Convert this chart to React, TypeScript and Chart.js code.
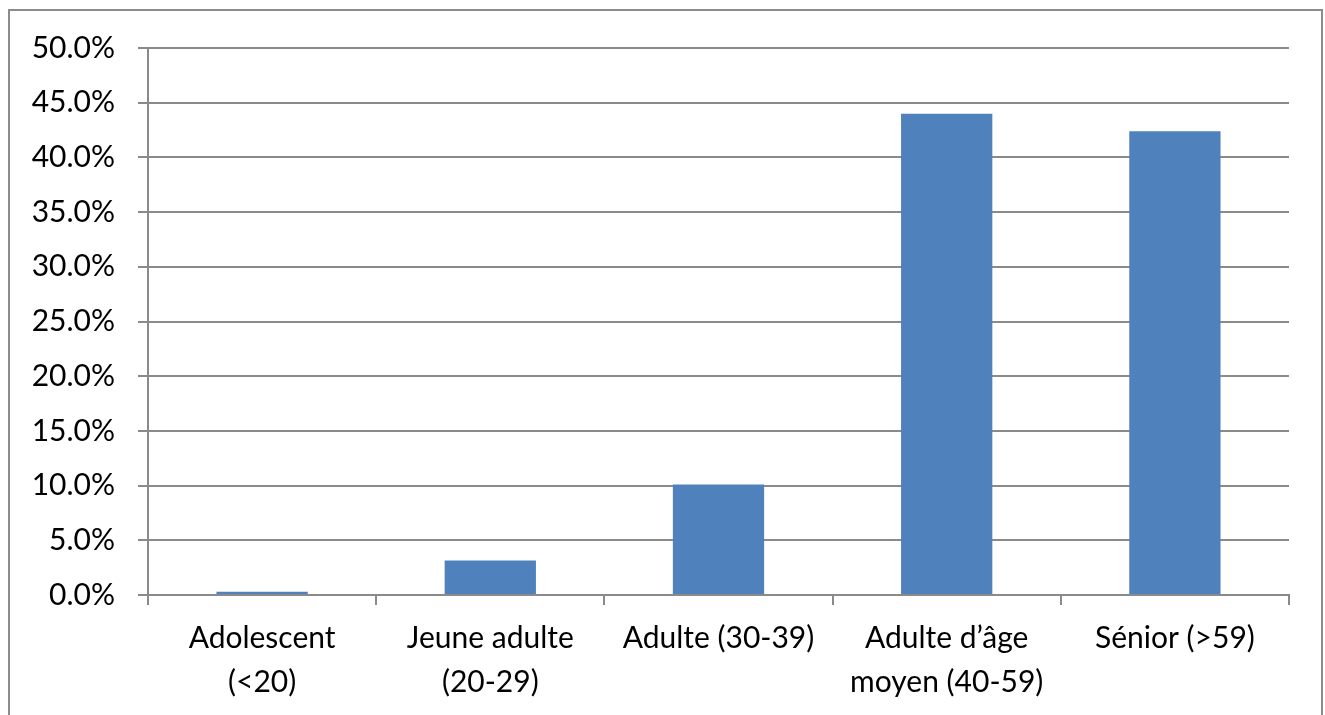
import React, { useEffect, useRef } from "react";
import { Chart, registerables } from "chart.js";

Chart.register(...registerables);

const categories: (string | string[])[] = [
  ["Adolescent", "(<20)"],
  ["Jeune adulte", "(20-29)"],
  "Adulte (30-39)",
  ["Adulte d\u2019âge", "moyen (40-59)"],
  "Sénior (>59)",
];
const values: number[] = [0.3, 3.15, 10.1, 44.0, 42.4];
const yMin = 0;
const yMax = 50;
const yStep = 5;

const FONT = "Lato";
const GRID = "#8a8a8a";

export default function App() {
  const ref = useRef<HTMLCanvasElement | null>(null);
  useEffect(() => {
    document.body.style.margin = "0";
    if (!ref.current) return;
    const chart = new Chart(ref.current, {
      type: "bar",
      data: {
        labels: categories,
        datasets: [
          {
            data: values,
            backgroundColor: "#4F81BD",
            borderWidth: 0,
            barPercentage: 0.4,
            categoryPercentage: 1.0,
          },
        ],
      },
      options: {
        animation: false,
        responsive: false,
        maintainAspectRatio: false,
        devicePixelRatio: 1,
        layout: { padding: { left: 0, right: 36, top: 48, bottom: 0 } },
        plugins: { legend: { display: false }, tooltip: { enabled: false } },
        scales: {
          y: {
            min: yMin,
            max: yMax,
            ticks: {
              stepSize: yStep,
              color: "#000",
              padding: 23,
              font: { family: FONT, size: 30 },
              callback: (v: any) => Number(v).toFixed(1) + "%",
            },
            grid: { color: GRID, lineWidth: 2, tickLength: 10 },
            border: { display: true, color: GRID, width: 2 },
            afterFit: (s: any) => {
              s.width = 148;
            },
          },
          x: {
            ticks: {
              color: "#000",
              padding: 12,
              maxRotation: 0,
              autoSkip: false,
              font: { family: FONT, size: 30, lineHeight: 1.45 },
            },
            grid: {
              offset: true,
              drawOnChartArea: false,
              color: GRID,
              lineWidth: 2,
              tickLength: 10,
            },
            border: { display: true, color: GRID, width: 2 },
            afterFit: (s: any) => {
              s.height = 120;
            },
          },
        },
      },
    });
    return () => chart.destroy();
  }, []);
  return (
    <div style={{ position: "relative", width: 1325, height: 715, overflow: "hidden", background: "#fff" }}>
      <div
        style={{
          position: "absolute",
          left: 8,
          top: 9,
          width: 1315,
          height: 800,
          border: "2px solid #8c8c8c",
          boxSizing: "border-box",
        }}
      />
      <canvas ref={ref} width={1325} height={715} style={{ position: "absolute", left: 0, top: 0 }} />
    </div>
  );
}
